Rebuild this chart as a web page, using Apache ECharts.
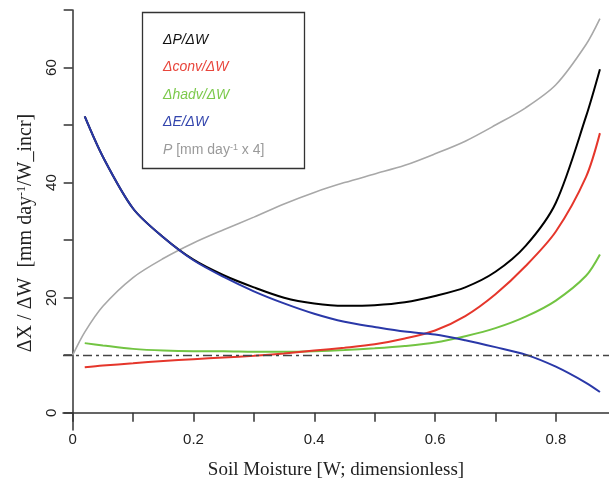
<!DOCTYPE html>
<html>
<head>
<meta charset="utf-8">
<script src="https://cdn.jsdelivr.net/npm/echarts@6/dist/echarts.min.js"></script>
<style>
  html, body { margin: 0; padding: 0; background: #fff; }
  #chart { width: 609px; height: 480px; }
</style>
</head>
<body>
<div id="chart"></div>
<script>
// soil moisture samples (x)
const moisture = [0.02, 0.05, 0.1, 0.15, 0.2, 0.25, 0.3, 0.35, 0.4, 0.45, 0.5, 0.55, 0.6, 0.65, 0.7, 0.75, 0.8, 0.85, 0.873]
const moistureP = [0].concat(moisture)

const dP = [51.5, 44.5, 35.5, 30.5, 26.6, 23.9, 21.8, 20.0, 19.0, 18.6, 18.7, 19.2, 20.3, 21.8, 24.5, 29.0, 36.5, 51.5, 59.7]
const dConv = [7.9, 8.2, 8.6, 9.0, 9.3, 9.6, 9.9, 10.3, 10.8, 11.3, 11.9, 12.9, 14.3, 16.8, 20.6, 25.5, 31.5, 41.0, 48.6]
const dHadv = [12.1, 11.7, 11.1, 10.8, 10.7, 10.7, 10.6, 10.6, 10.7, 10.9, 11.2, 11.6, 12.2, 13.3, 14.7, 16.7, 19.5, 23.8, 27.5]
const dE = [51.5, 44.5, 35.5, 30.5, 26.5, 23.6, 21.1, 19.0, 17.2, 15.8, 14.9, 14.1, 13.6, 12.6, 11.4, 10.1, 8.0, 5.2, 3.6]
const precip = [10, 14, 18.5, 23.5, 26.8, 29.5, 31.8, 34.0, 36.3, 38.3, 40.0, 41.5, 43.0, 45.0, 47.2, 50.0, 53.0, 57.0, 64.0, 68.5]

const refLevel = 10

const xTicks = [0, 0.1, 0.2, 0.3, 0.4, 0.5, 0.6, 0.7, 0.8]
const xLabels = [0, 0.2, 0.4, 0.6, 0.8]
const yTicks = [0, 10, 20, 30, 40, 50, 60, 70]
const yLabels = [0, 20, 40, 60]

const names = ['ΔP/ΔW', 'Δconv/ΔW', 'Δhadv/ΔW', 'ΔE/ΔW', 'P']
const colors = ['#000000', '#e5362b', '#72c442', '#2a38a8', '#a8a8a8']
const textColors = ['#111111', '#e8463c', '#7cc94c', '#3345ad', '#9a9a9a']

function pairs(xs, ys) {
  return xs.map((x, i) => [x, ys[i]])
}

function line(name, xs, ys, color, width, extra) {
  return Object.assign({
    name: name,
    type: 'line',
    data: pairs(xs, ys),
    symbol: 'none',
    smooth: 0.3,
    lineStyle: { color: color, width: width },
    itemStyle: { color: color }
  }, extra || {})
}

const chart = echarts.init(document.getElementById('chart'))

chart.setOption({
  animation: false,
  backgroundColor: '#fff',
  grid: { left: 63, right: 0, top: 10, bottom: 50, outerBoundsMode: 'none', containLabel: false },
  xAxis: {
    type: 'value',
    min: -0.016,
    max: 0.888,
    name: 'Soil Moisture [W; dimensionless]',
    nameLocation: 'middle',
    nameGap: 31,
    nameTextStyle: { fontFamily: 'Liberation Serif', fontSize: 19, color: '#222' },
    axisLine: { onZero: true, lineStyle: { color: '#333', width: 1.5 } },
    axisTick: { customValues: xTicks, length: 9, lineStyle: { color: '#333', width: 1.5 } },
    axisLabel: {
      customValues: xLabels,
      margin: 2,
      fontFamily: 'Liberation Sans',
      fontSize: 15,
      color: '#222',
      formatter: v => String(v)
    },
    splitLine: { show: false }
  },
  yAxis: {
    type: 'value',
    min: -3,
    max: 70,
    name: 'ΔX / ΔW  [mm day{sup|-1}/W_incr]',
    nameLocation: 'middle',
    nameGap: 27,
    nameTextStyle: {
      fontFamily: 'Liberation Serif', fontSize: 20, color: '#222',
      padding: [0, 26, 0, 0],
      rich: {
        sup: { fontFamily: 'Liberation Serif', fontSize: 12, color: '#222', verticalAlign: 'top', lineHeight: 12 }
      }
    },
    axisLine: { onZero: true, lineStyle: { color: '#333', width: 1.5 } },
    axisTick: { customValues: yTicks, length: 9, lineStyle: { color: '#333', width: 1.5 } },
    axisLabel: {
      customValues: yLabels,
      rotate: 90,
      margin: 4,
      fontFamily: 'Liberation Sans',
      fontSize: 15,
      color: '#222'
    },
    splitLine: { show: false }
  },
  legend: {
    orient: 'vertical',
    left: 153,
    top: 28,
    icon: 'none',
    itemWidth: 0,
    itemHeight: 14,
    itemGap: 13.5,
    selectedMode: false,
    data: names.map((n, i) => ({ name: n, textStyle: { color: textColors[i] } })),
    textStyle: {
      fontFamily: 'Liberation Sans',
      fontSize: 14,
      fontStyle: 'italic',
      rich: {
        pi: { fontFamily: 'Liberation Sans', fontSize: 14, fontStyle: 'italic', color: '#9a9a9a' },
        pg: { fontFamily: 'Liberation Sans', fontSize: 14, fontStyle: 'normal', color: '#9a9a9a' },
        sup: { fontFamily: 'Liberation Sans', fontSize: 9, fontStyle: 'normal', color: '#9a9a9a', verticalAlign: 'top', lineHeight: 9 }
      }
    },
    formatter: n => n === 'P' ? '{pi|P}{pg| [mm day}{sup|-1}{pg| x 4]}' : n
  },
  graphic: [{
    type: 'rect',
    left: 140,
    top: 10,
    shape: { width: 162, height: 156 },
    style: { fill: 'none', stroke: '#333', lineWidth: 1.3 },
    silent: true
  }],
  series: [
    line('P', moistureP, precip, colors[4], 1.6, {
      markLine: {
        silent: true,
        symbol: 'none',
        label: { show: false },
        lineStyle: { color: '#444', width: 1.4, type: [9, 4, 3, 4] },
        data: [{ yAxis: refLevel }]
      }
    }),
    line('ΔP/ΔW', moisture, dP, colors[0], 2),
    line('Δhadv/ΔW', moisture, dHadv, colors[2], 2),
    line('Δconv/ΔW', moisture, dConv, colors[1], 2),
    line('ΔE/ΔW', moisture, dE, colors[3], 2)
  ]
})
</script>
</body>
</html>
